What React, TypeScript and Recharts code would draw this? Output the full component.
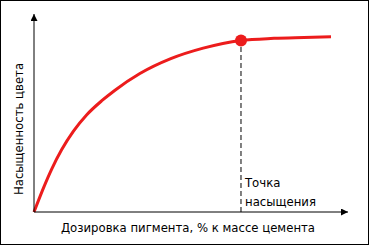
import React from "react";
import { LineChart, Line, XAxis, YAxis, ReferenceLine, ReferenceDot, Label } from "recharts";

const dosage = [0, 3.1, 5.9, 9.2, 13.1, 17.6, 22.6, 27, 35.3, 45.6, 56.4, 69, 80, 90, 99];
const saturation = [0, 13.5, 24.5, 35.5, 46, 55.5, 63.5, 69.5, 79, 87.5, 93.5, 97.9, 99.1, 99.6, 100];
const saturationPoint = { x: 69, y: 97.9 };
const xTitle = "Дозировка пигмента, % к массе цемента";
const yTitle = "Насыщенность цвета";
const pointLabel = ["Точка", "насыщения"];

const data = dosage.map((d, i) => ({ d, s: saturation[i] }));

const RED = "#ec1c1c";
const FONT = "'DejaVu Sans', sans-serif";
const FS = 11.7;

export default function App() {
  return (
    <div style={{ position: "absolute", left: 0, top: 0, width: 370, height: 246 }}>
      <svg width={0} height={0} style={{ position: "absolute" }}>
        <defs>
          <marker id="arrowHead" viewBox="0 0 10 10" refX={10} refY={5} markerWidth={9} markerHeight={7}
            markerUnits="userSpaceOnUse" orient="auto-start-reverse">
            <path d="M0,0 L10,5 L0,10 z" fill="#000" />
          </marker>
        </defs>
      </svg>
      <div style={{ position: "absolute", left: 0, top: 0, width: 367, height: 243, border: "1px solid #000" }} />
      <div style={{ position: "absolute", left: 0, top: 0 }}>
        <LineChart width={370} height={246} data={data} margin={{ top: 14, right: 22, bottom: 0, left: 0 }}>
          <XAxis
            dataKey="d"
            type="number"
            domain={[0, 104.67]}
            tick={false}
            tickLine={false}
            height={34}
            axisLine={{ stroke: "#000", strokeWidth: 1, markerEnd: "url(#arrowHead)" }}
          >
            <Label
              content={({ viewBox }: any) => (
                <text x={viewBox.x + 154} y={viewBox.y + 16} textAnchor="middle" dominantBaseline="central"
                  fontFamily={FONT} fontSize={FS} fill="#000">{xTitle}</text>
              )}
            />
          </XAxis>
          <YAxis
            type="number"
            domain={[0, 113]}
            tick={false}
            tickLine={false}
            width={34}
            axisLine={{ stroke: "#000", strokeWidth: 1, markerStart: "url(#arrowHead)" }}
          >
            <Label
              content={({ viewBox }: any) => (
                <text x={19} y={viewBox.y + 115} textAnchor="middle" dominantBaseline="central"
                  transform={`rotate(-90, 19, ${viewBox.y + 115})`}
                  fontFamily={FONT} fontSize={FS} fill="#000">{yTitle}</text>
              )}
            />
          </YAxis>
          <ReferenceLine
            segment={[{ x: saturationPoint.x, y: 0 }, { x: saturationPoint.x, y: saturationPoint.y }]}
            stroke="#000"
            strokeDasharray="5 3"
            label={({ viewBox }: any) => (
              <text fontFamily={FONT} fontSize={FS} fill="#000">
                <tspan x={viewBox.x + 4} y={viewBox.y + viewBox.height - 29} dominantBaseline="central">{pointLabel[0]}</tspan>
                <tspan x={viewBox.x + 4} y={viewBox.y + viewBox.height - 10} dominantBaseline="central">{pointLabel[1]}</tspan>
              </text>
            )}
          />
          <Line type="monotone" dataKey="s" stroke={RED} strokeWidth={3} dot={false} isAnimationActive={false} />
          <ReferenceDot x={saturationPoint.x} y={saturationPoint.y} r={6} fill={RED} stroke="none" />
        </LineChart>
      </div>
    </div>
  );
}
